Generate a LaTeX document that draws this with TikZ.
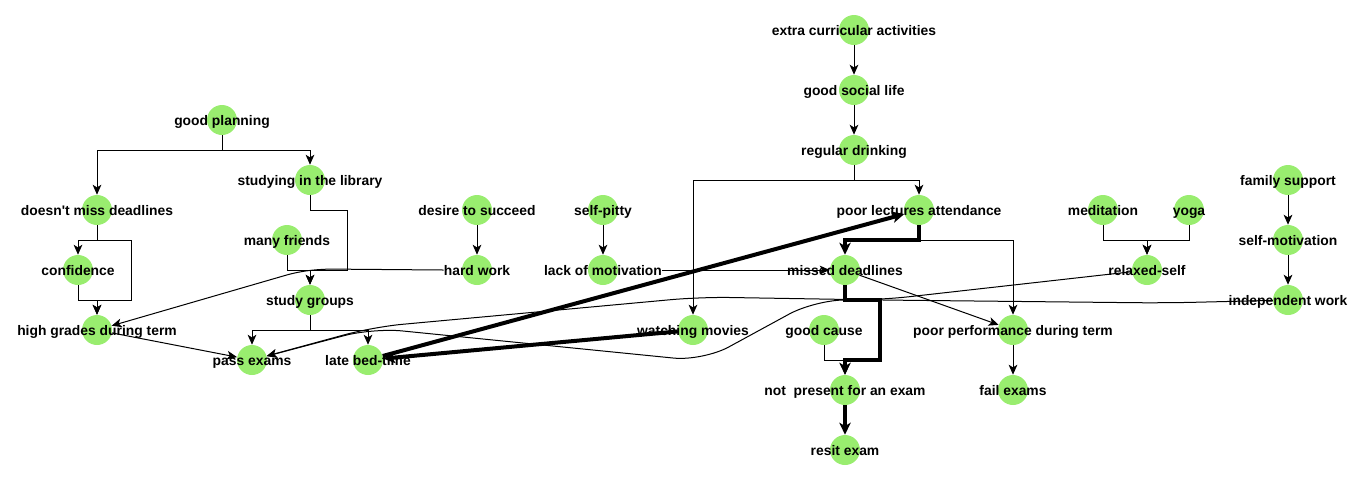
\documentclass[tikz,border=0pt]{standalone}
\usepackage{fontspec}
\setmainfont{Liberation Sans}[Ligatures=TeXOff]
\usetikzlibrary{arrows.meta,calc}
\definecolor{ndgreen}{RGB}{153,237,111}
\begin{document}
\begin{tikzpicture}[x=0.75pt,y=-0.75pt,
  dot/.style={circle,fill=ndgreen,minimum size=22.5pt,inner sep=0pt,draw=none},
  lbl/.style={inner sep=0pt,text height=9pt,text depth=1.5pt,font=\fontsize{10.4}{12}\selectfont\bfseries},
  ln/.style={line width=0.75pt,-{Stealth[length=7.5pt,width=6.5pt,inset=2pt]}},
  thk/.style={line width=3pt,-{Stealth[length=9pt,width=8.5pt,inset=2.5pt]}}]
\useasboundingbox (0,0) rectangle (1367,480);
% circles
\foreach \n/\x/\y in {ec/854/30,gsl/854/90,rd/854/150,gp/222/120,sil/310/180,
  dmd/97/210,ds/477/210,sp/603/210,pla/919/210,med/1103/210,yoga/1189/210,
  fs/1288/180,sm/1288/240,mf/287/240,conf/78/270,hw/477/270,lom/603/270,
  md/845/270,rs/1147/270,iw/1288/300,sg/310/300,hg/97/330,wm/693/330,
  gc/824/330,ppt/1013/330,pe/252/360,lbt/368/360,np/845/390,fe/1013/390,re/845/450}
  {\node[dot] (\n) at (\x,\y) {};}
% labels
\node[lbl] (ecL) at (ec) {extra curricular activities};
\node[lbl] (gslL) at (gsl) {good social life};
\node[lbl] (rdL) at (rd) {regular drinking};
\node[lbl] (gpL) at (gp) {good planning};
\node[lbl] (silL) at (sil) {studying in the library};
\node[lbl] (dmdL) at (dmd) {doesn't miss deadlines};
\node[lbl] (dsL) at (ds) {desire to succeed};
\node[lbl] (spL) at (sp) {self-pitty};
\node[lbl] (plaL) at (pla) {poor lectures attendance};
\node[lbl] (medL) at (med) {meditation};
\node[lbl] (yogaL) at (yoga) {yoga};
\node[lbl] (fsL) at (fs) {family support};
\node[lbl] (smL) at (sm) {self-motivation};
\node[lbl] (mfL) at (mf) {many friends};
\node[lbl] (confL) at (conf) {confidence};
\node[lbl] (hwL) at (hw) {hard work};
\node[lbl] (lomL) at (lom) {lack of motivation};
\node[lbl] (mdL) at (md) {missed deadlines};
\node[lbl] (rsL) at (rs) {relaxed-self};
\node[lbl] (iwL) at (iw) {independent work};
\node[lbl] (sgL) at (sg) {study groups};
\node[lbl] (hgL) at (hg) {high grades during term};
\node[lbl] (wmL) at (wm) {watching movies};
\node[lbl] (gcL) at (gc) {good cause};
\node[lbl] (pptL) at (ppt) {poor performance during term};
\node[lbl] (peL) at (pe) {pass exams};
\node[lbl] (lbtL) at (lbt) {late bed-time};
\node[lbl] (npL) at (np) {not\ \ present for an exam};
\node[lbl] (feL) at (fe) {fail exams};
\node[lbl] (reL) at (re) {resit exam};
% connectors
\draw[ln] (ec) -- (gsl);
\draw[ln] (gsl) -- (rd);
\draw[ln] (rd.south) -- ++(0,15) -| (pla.north);
\draw[ln] (rd.south) -- ++(0,15) -| (wm.north);
\draw[ln] (gp.south) -- ++(0,15) -| (dmd.north);
\draw[ln] (gp.south) -- ++(0,15) -| (sil.north);
\draw[ln] (dmd.south) -- ++(0,15) -| (conf.north);
\draw[ln] (dmd.south) -- ++(0,15) -- ++(34,0) -- ++(0,60) -| (hg.north);
\draw[ln] (conf.south) -- ++(0,15) -| (hg.north);
\draw[ln] (sil.south) -- ++(0,15) -- ++(37,0) -- ++(0,60) -| (sg.north);
\draw[ln] (mf.south) -- ++(0,15) -| (sg.north);
\draw[ln] (sg.south) -- ++(0,15) -| (pe.north);
\draw[ln] (sg.south) -- ++(0,15) -| (lbt.north);
\draw[ln] (hg) -- (pe);
\draw[ln,rounded corners=8] (hwL.west) -- (322,269) -- (297,272) -- (hg);
\draw[ln] (ds) -- (hw);
\draw[ln] (sp) -- (lom);
\draw[ln] (lomL.east) -- (md);
\draw[ln] (md) -- (ppt);
\draw[ln] (pla.south) -- ++(0,15) -| (ppt.north);
\draw[ln] (gc.south) -- ++(0,15) -| (np.north);
\draw[ln] (med.south) -- ++(0,15) -| (rs.north);
\draw[ln] (yoga.south) -- ++(0,15) -| (rs.north);
\draw[ln] (fs) -- (sm);
\draw[ln] (sm) -- (iw);
\draw[ln] (ppt) -- (fe);
\draw[ln,rounded corners=22] (rs) -- (880,300) -- (815,300) -- (703,361) -- (373,328) -- (pe);
\draw[ln,rounded corners=22] (iw) -- (1165,303) -- (880,300) -- (700,297) -- (373,327) -- (pe);
\draw[thk] (pla.south) -- ++(0,15) -| (md.north);
\draw[thk] (md.south) -- ++(0,15) -- ++(35,0) -- ++(0,60) -| (np.north);
\draw[thk] (np) -- (re);
\draw[thk] (lbt) -- (pla);
\draw[thk] (wm) -- (lbt);
\end{tikzpicture}
\end{document}
